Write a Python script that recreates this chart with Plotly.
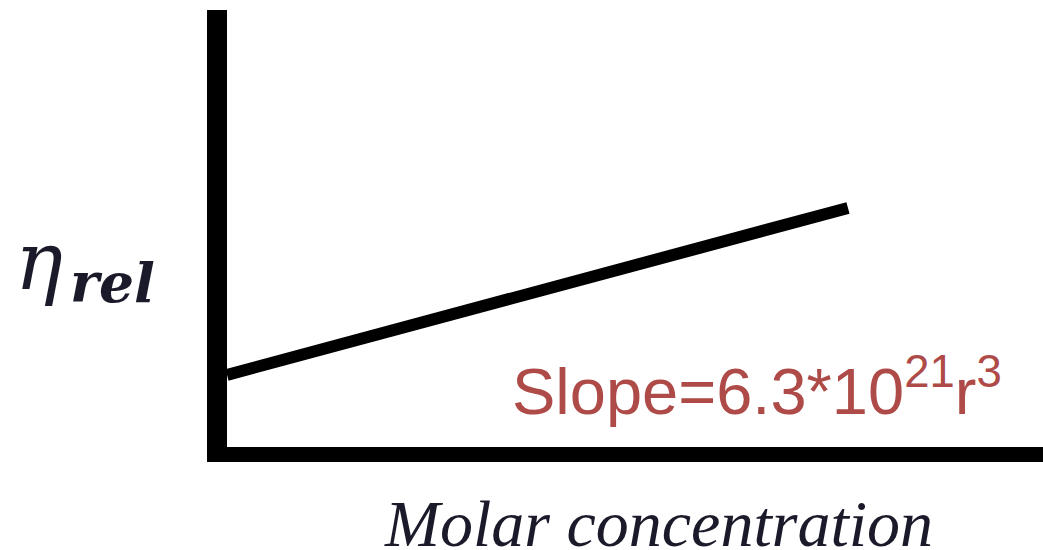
import plotly.graph_objects as go

# Data
molar_concentration = [0.0, 7.61]
eta_rel = [1.65, 5.47]
slope_label = "Slope=6.3*10<sup>21</sup>r<sup>3</sup>"
x_title = "Molar concentration"
y_symbol = "η"
y_subscript = "rel"

W, H = 1043, 550
L, R, T, B = 227, 0, 10, 103
ph = H - T - B
pw = W - L - R

def px_to_paper_x(px):
    return (px - L) / pw

def px_to_paper_y(py):
    return (H - B - py) / ph

fig = go.Figure()
fig.add_trace(go.Scatter(
    x=molar_concentration, y=eta_rel, mode="lines",
    line=dict(color="black", width=12),
    showlegend=False, hoverinfo="skip",
))

fig.update_xaxes(range=[0, 10], showline=True, linewidth=15, linecolor="black",
                 showgrid=False, zeroline=False, showticklabels=False, ticks="")
fig.update_yaxes(range=[0, 10], showline=True, linewidth=20, linecolor="black",
                 showgrid=False, zeroline=False, showticklabels=False, ticks="")

fig.add_annotation(text=slope_label, xref="paper", yref="paper",
                   x=px_to_paper_x(510), y=px_to_paper_y(387), xanchor="left", yanchor="middle",
                   showarrow=False, font=dict(family="Liberation Sans", size=65, color="#AE4A47"))
fig.add_annotation(text="<i>" + y_symbol + "</i>", xref="paper", yref="paper",
                   x=px_to_paper_x(13), y=px_to_paper_y(261), xanchor="left", yanchor="middle",
                   showarrow=False, font=dict(family="DejaVu Serif", size=80, color="#1a1a2a"))
fig.add_annotation(text="<b><i>" + y_subscript + "</i></b>", xref="paper", yref="paper",
                   x=px_to_paper_x(68), y=px_to_paper_y(282), xanchor="left", yanchor="middle",
                   showarrow=False, font=dict(family="DejaVu Serif", size=55, color="#1a1a2a"))
fig.add_annotation(text="<i>" + x_title + "</i>", xref="paper", yref="paper",
                   x=px_to_paper_x(658), y=px_to_paper_y(523), xanchor="center", yanchor="middle",
                   showarrow=False, font=dict(family="Liberation Serif", size=66, color="#1a1a2a"))

fig.update_layout(width=W, height=H, margin=dict(l=L, r=R, t=T, b=B),
                  plot_bgcolor="white", paper_bgcolor="white")
fig.write_html("out.html", config={"displayModeBar": False, "staticPlot": True},
               post_script="document.body.style.margin='0';document.body.style.overflow='hidden';")
